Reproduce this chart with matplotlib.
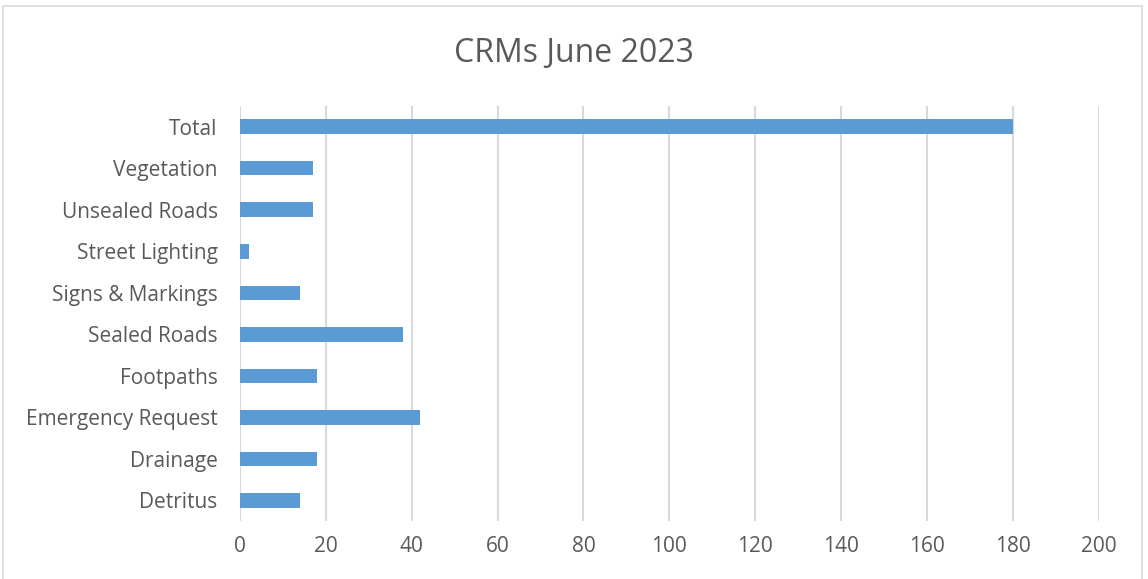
import matplotlib.pyplot as plt
from matplotlib.patches import Rectangle

categories = ['Detritus', 'Drainage', 'Emergency Request', 'Footpaths', 'Sealed Roads',
              'Signs & Markings', 'Street Lighting', 'Unsealed Roads', 'Vegetation', 'Total']
counts = [14, 18, 42, 18, 38, 14, 2, 17, 17, 180]
xticks = [0, 20, 40, 60, 80, 100, 120, 140, 160, 180, 200]

plt.rcParams['font.family'] = ['Open Sans', 'DejaVu Sans']
text_col = '#595959'
grid_col = '#d9d9d9'

fig = plt.figure(figsize=(11.48, 5.79), dpi=100)
ax = fig.add_axes([0.209, 0.100, 0.748, 0.717])

ax.barh(range(len(categories)), counts, height=0.35, color='#5b9bd5', zorder=3)
ax.set_xlim(0, 200)
ax.set_ylim(-0.5, len(categories) - 0.5)
ax.set_xticks(xticks)
ax.set_yticks(range(len(categories)))
ax.set_yticklabels(categories)
ax.tick_params(axis='both', length=0, colors=text_col, labelsize=15)
ax.tick_params(axis='x', pad=11)
ax.tick_params(axis='y', pad=16)
ax.grid(axis='x', color=grid_col, linewidth=1.5, zorder=0)
for s in ax.spines.values():
    s.set_visible(False)

fig.text(0.5, 0.907, 'CRMs June 2023', ha='center', va='center', fontsize=23, color=text_col)

fig.patches.append(Rectangle((3 / 1148, -0.01), 1139 / 1148, 1 - 6 / 579 + 0.01,
                             transform=fig.transFigure, fill=False,
                             edgecolor=grid_col, linewidth=1.2))

fig.savefig('out.png', dpi=100)
